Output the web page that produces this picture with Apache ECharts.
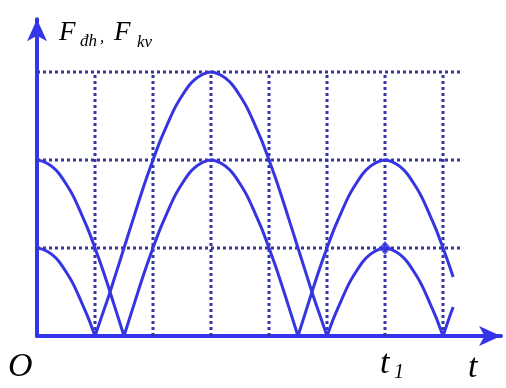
<!DOCTYPE html>
<html>
<head>
<meta charset="utf-8">
<script src="https://cdn.jsdelivr.net/npm/echarts@6/dist/echarts.min.js"></script>
<style>
html,body{margin:0;padding:0;background:#fff;}
#chart{width:506px;height:388px;}
</style>
</head>
<body>
<div id="chart"></div>
<script>
// time samples (in grid units)
const tValues = [0,0.125,0.25,0.375,0.5,0.625,0.75,0.875,1,1.125,1.25,1.375,1.5,1.625,1.75,1.875,2,2.125,2.25,2.375,2.5,2.625,2.75,2.875,3,3.125,3.25,3.375,3.5,3.625,3.75,3.875,4,4.125,4.25,4.375,4.5,4.625,4.75,4.875,5,5.125,5.25,5.375,5.5,5.625,5.75,5.875,6,6.125,6.25,6.375,6.5,6.625,6.75,6.875,7,7.125,7.175];
// elastic force F_đh (grid units)
const fdhValues = [1.00,0.98,0.93,0.85,0.73,0.59,0.41,0.22,0,0.24,0.48,0.74,1.00,1.26,1.52,1.77,2.00,2.22,2.41,2.59,2.73,2.85,2.93,2.98,3.00,2.98,2.93,2.85,2.73,2.59,2.41,2.22,2.00,1.77,1.52,1.26,1.00,0.74,0.48,0.24,0,0.22,0.41,0.59,0.73,0.85,0.93,0.98,1.00,0.98,0.93,0.85,0.73,0.59,0.41,0.22,0,0.24,0.33];
// restoring force F_kv (grid units)
const fkvValues = [2.00,1.98,1.93,1.85,1.73,1.59,1.41,1.22,1.00,0.77,0.52,0.26,0,0.26,0.52,0.77,1.00,1.22,1.41,1.59,1.73,1.85,1.93,1.98,2.00,1.98,1.93,1.85,1.73,1.59,1.41,1.22,1.00,0.77,0.52,0.26,0,0.26,0.52,0.77,1.00,1.22,1.41,1.59,1.73,1.85,1.93,1.98,2.00,1.98,1.93,1.85,1.73,1.59,1.41,1.22,1.00,0.77,0.67];
// dotted guide lines
const gridTimes = [1,2,3,4,5,6,7];
const gridLevels = [1,2,3];
const guideTimeEnd = 7.3;
const guideLevelTop = 3;
// marked point at t1
const t1Point = [6, 1];

const curveColor = '#3535e2';
const axisColor = '#3434ea';
const dotColor = '#36369f';

function splitArcs(ts, vs) {
  const segs = [];
  let cur = [];
  for (let i = 0; i < ts.length; i++) {
    cur.push([ts[i], vs[i]]);
    if (vs[i] === 0 && cur.length > 1) {
      segs.push(cur);
      cur = [[ts[i], vs[i]]];
    }
  }
  if (cur.length > 1) segs.push(cur);
  return segs;
}

const series = [];
gridLevels.forEach(function (lv) {
  series.push({type:'line', data:[[0,lv],[guideTimeEnd,lv]], symbol:'none', silent:true, z:1,
    lineStyle:{color:dotColor, width:3, type:[3,3]}});
});
gridTimes.forEach(function (t) {
  series.push({type:'line', data:[[t,0],[t,guideLevelTop]], symbol:'none', silent:true, z:1,
    lineStyle:{color:dotColor, width:3, type:[3,3]}});
});
splitArcs(tValues, fdhValues).concat(splitArcs(tValues, fkvValues)).forEach(function (seg) {
  series.push({type:'line', data:seg, smooth:0.3, symbol:'none', silent:true, z:3,
    lineStyle:{color:curveColor, width:3}});
});
series.push({type:'scatter', data:[t1Point], symbol:'diamond', symbolSize:[12,14], z:4,
  itemStyle:{color:curveColor}});

const serif = '"Liberation Serif", "DejaVu Serif", serif';
function txt(s, x, y, size) {
  return {type:'text', x:x, y:y, z:10, style:{text:s, fill:'#000', font:'italic ' + size + 'px ' + serif, verticalAlign:'bottom', align:'left'}};
}

const chart = echarts.init(document.getElementById('chart'), null, {renderer:'canvas'});
chart.setOption({
  animation:false,
  backgroundColor:'#fff',
  grid:{left:37, right:506-37-8*58, bottom:52, height:3.6*88},
  xAxis:{type:'value', min:0, max:8,
    axisLine:{show:true, symbol:['none','arrow'], symbolSize:[15,22], lineStyle:{color:axisColor, width:4}},
    axisTick:{show:false}, axisLabel:{show:false}, splitLine:{show:false}},
  yAxis:{type:'value', min:0, max:3.6,
    axisLine:{show:true, symbol:['none','arrow'], symbolSize:[15,22], lineStyle:{color:axisColor, width:4}},
    axisTick:{show:false}, axisLabel:{show:false}, splitLine:{show:false}},
  series:series,
  graphic:[
    txt('F', 59, 46, 27),
    txt('đh', 80, 50, 17),
    txt(',', 100, 46, 17),
    txt('F', 114, 46, 27),
    txt('kv', 137, 51, 17),
    txt('O', 8, 384, 34),
    txt('t', 380, 381, 34),
    txt('1', 394, 383, 20),
    txt('t', 468, 385, 34)
  ]
});
</script>
</body>
</html>
